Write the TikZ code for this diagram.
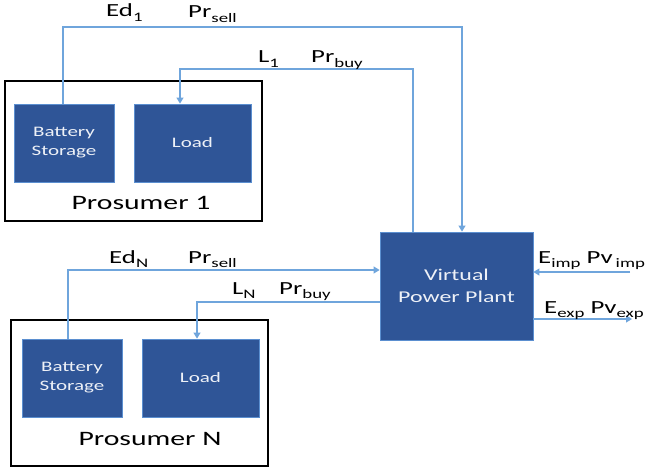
\documentclass[tikz,border=0pt]{standalone}
\usepackage{fontspec}
\setmainfont{Carlito}[FakeStretch=1.45]
\usetikzlibrary{arrows.meta}
\definecolor{unitblue}{HTML}{2F5597}
\definecolor{unitedge}{HTML}{5B8FD0}
\definecolor{flowblue}{HTML}{6FA5DC}
\newcommand\lowsub[1]{\raisebox{-4.5pt}{\fontsize{13}{13}\selectfont #1}}
\begin{document}
\begin{tikzpicture}[x=1pt, y=-1pt,
    group/.style={draw=black, line width=1.3pt, minimum width=257pt, inner sep=0pt},
    unit/.style={draw=unitedge, line width=0.8pt, fill=unitblue, text=white!92!unitblue, inner sep=0pt,
                 minimum height=78pt, align=center, font=\fontsize{14.5}{19}\selectfont},
    flow/.style={draw=flowblue, line width=1.1pt, -{Triangle[length=6pt,width=7pt]}},
    lbl/.style={anchor=base west, inner sep=0pt, font=\fontsize{18.5}{18.5}\selectfont}]
  \useasboundingbox (0,0) rectangle (653,468);
  \node[group, minimum height=140pt] (prosA) at (133.5,151) {};
  \node[unit, minimum width=100pt] (batA)  at (64,143)    {Battery\\Storage};
  \node[unit, minimum width=117pt] (loadA) at (192.5,143) {Load};
  \node[anchor=base, font=\fontsize{20.5}{20.5}\selectfont] (labA) at (141,209) {Prosumer 1};
  \node[group, minimum height=146pt] (prosB) at (139.5,393) {};
  \node[unit, minimum width=100pt] (batB)  at (72,378)    {Battery\\Storage};
  \node[unit, minimum width=117pt] (loadB) at (200.5,378) {Load};
  \node[anchor=base, font=\fontsize{20.5}{20.5}\selectfont] (labB) at (150,445) {Prosumer N};
  \node[unit, minimum width=153pt, minimum height=108pt, font=\fontsize{16.5}{22}\selectfont] (vpp)
    at (456.5,286) {Virtual\\Power Plant};
  \coordinate (cA) at (462,27);
  \coordinate (cB) at (413,69);
  \coordinate (cC) at (68,270);
  \coordinate (cD) at (197,302);
  \coordinate (impin) at (630,272);
  \coordinate (expout) at (632,319);
  \draw[flow] ([xshift=-1pt]batA.north) |- (cA) -- (cA |- vpp.north);
  \draw[flow] (cB |- vpp.north) -- (cB) -| ([xshift=-12.5pt]loadA.north);
  \draw[flow] (cC |- batB.north) -- (cC) -- (cC -| vpp.west);
  \draw[flow] (cD -| vpp.west) -- (cD) -- (cD |- loadB.north);
  \draw[flow] (impin) -- (impin -| vpp.east);
  \draw[flow] (expout -| vpp.east) -- (expout);
  \node[lbl] (edA)   at (106,17)  {Ed\lowsub{1}};
  \node[lbl] (sellA) at (188,18)  {Pr\lowsub{sell}};
  \node[lbl] (lA)    at (258,63)  {L\lowsub{1}};
  \node[lbl] (buyA)  at (311,63)  {Pr\lowsub{buy}};
  \node[lbl] (edB)   at (109,263) {Ed\lowsub{N}};
  \node[lbl] (sellB) at (188,263) {Pr\lowsub{sell}};
  \node[lbl] (lB)    at (232,294) {L\lowsub{N}};
  \node[lbl] (buyB)  at (279,294) {Pr\lowsub{buy}};
  \node[lbl] (imp)   at (538,263) {E\lowsub{imp} Pv\,\lowsub{imp}};
  \node[lbl] (exp)   at (544,313) {E\lowsub{exp} Pv\lowsub{exp}};
\end{tikzpicture}
\end{document}
